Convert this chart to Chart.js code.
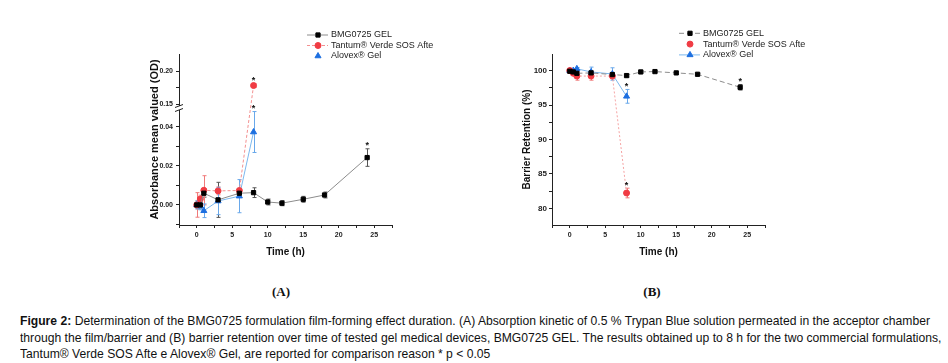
<!DOCTYPE html>
<html>
<head>
<meta charset="utf-8">
<script src="https://cdn.jsdelivr.net/npm/chart.js@4.4.1/dist/chart.umd.min.js"></script>
<style>
  body { margin: 0; background: #fff; width: 948px; height: 363px; position: relative; overflow: hidden; font-family: Arial, "Liberation Sans", sans-serif; }
  canvas { position: absolute; }
  #chartA { left: 120px; top: 20px; }
  #chartB { left: 490px; top: 20px; }
  .panel { position: absolute; top: 284px; font: bold 13px "Liberation Serif", serif; color: #111; transform: translateX(-50%); }
  #caption { position: absolute; left: 20px; top: 313px; font: 13px Arial, "Liberation Sans", sans-serif; line-height: 16.5px; color: #111; }
  #caption .ln { display: block; width: max-content; white-space: nowrap; transform-origin: 0 50%; }
</style>
</head>
<body>
<canvas id="chartA" width="330" height="250"></canvas>
<canvas id="chartB" width="330" height="250"></canvas>
<div class="panel" style="left:281px">(A)</div>
<div class="panel" style="left:652px">(B)</div>
<div id="caption">
  <span class="ln"><b>Figure 2:</b> Determination of the BMG0725 formulation film-forming effect duration. (A) Absorption kinetic of 0.5 % Trypan Blue solution permeated in the acceptor chamber</span>
  <span class="ln">through the film/barrier and (B) barrier retention over time of tested gel medical devices, BMG0725 GEL. The results obtained up to 8 h for the two commercial formulations,</span>
  <span class="ln">Tantum® Verde SOS Afte e Alovex® Gel, are reported for comparison reason * p &lt; 0.05</span>
</div>
<script>
    // sampling times (h)
    const timeBMG = [0, 0.5, 1, 3, 6, 8, 10, 12, 15, 18, 24];
    const timeRef = [0, 0.5, 1, 3, 6, 8];
    const seriesNames = ['BMG0725 GEL', 'Tantum® Verde SOS Afte', 'Alovex® Gel'];

    // Panel A: absorbance mean value (OD) and SD
    const absBMG = [0.000, 0.000, 0.006, 0.0026, 0.006, 0.0063, 0.0015, 0.0009, 0.0029, 0.0051, 0.0243];
    const absBMGErr = [0.002, 0.002, 0.002, 0.009, 0.002, 0.0025, 0.0015, 0.0013, 0.0015, 0.0015, 0.0045];
    const absTantum = [0.000, 0.003, 0.0075, 0.0072, 0.0074, 0.178];
    const absTantumErr = [0.0063, 0.002, 0.0075, 0.002, 0.001, 0.003];
    const absAlovex = [0.000, -0.0005, -0.003, 0.002, 0.0045, 0.0374];
    const absAlovexErr = [0.002, 0.002, 0.0035, 0.007, 0.0085, 0.0105];

    // Panel B: barrier retention (%) and SD
    const retBMG = [99.9, 99.8, 99.6, 99.66, 99.42, 99.27, 99.8, 99.85, 99.66, 99.46, 97.57];
    const retBMGErr = [0.2, 0.2, 0.2, 0.3, 0.2, 0.2, 0.15, 0.15, 0.15, 0.15, 0.4];
    const retTantum = [100.0, 99.6, 99.2, 99.2, 99.2, 82.24];
    const retTantumErr = [0.3, 0.3, 0.6, 0.6, 0.4, 0.7];
    const retAlovex = [100.0, 100.0, 100.25, 99.8, 99.5, 96.26];
    const retAlovexErr = [0.2, 0.2, 0.2, 0.7, 0.9, 1.0];

    // significant points (* p < 0.05): [dataset, point]
    const starsA = [[1, 5], [2, 5], [0, 10]];
    const starsB = [[1, 5], [2, 5], [0, 10]];

    // tick values
    const xTicks = [-2.5, 0, 2.5, 5, 7.5, 10, 12.5, 15, 17.5, 20, 22.5, 25, 27.5];
    const xLabels = [0, 5, 10, 15, 20, 25];
    const yTicksA = [-0.01, 0, 0.01, 0.02, 0.03, 0.04, 0.15, 0.175, 0.20];
    const yLabelsA = [0, 0.02, 0.04, 0.15, 0.20];
    const yTicksB = [80, 82.5, 85, 87.5, 90, 92.5, 95, 97.5, 100];
    const yLabelsB = [80, 85, 90, 95, 100];

    const toPoints = (times, vals) => times.map((t, i) => ({ x: t, y: vals[i] }));

    // linear scale with a gap (broken axis) between two value ranges
    class BrokenLinearScale extends Chart.LinearScale {
      getPixelForValue(value) {
        if (value === null || value === undefined) return NaN;
        const b = this.options.axisBreak;
        let dec;
        if (value <= b.low) {
          dec = (value - this.min) / (b.low - this.min) * b.split;
        } else {
          dec = b.split + b.gap + (value - b.high) / (this.max - b.high) * (1 - b.split - b.gap);
        }
        return this.getPixelForDecimal(dec);
      }
    }
    BrokenLinearScale.id = 'brokenLinear';
    BrokenLinearScale.defaults = Chart.LinearScale.defaults;
    Chart.register(BrokenLinearScale);

    const errorBars = {
      id: 'errorBars',
      beforeDatasetsDraw(chart) {
        const { ctx, scales: { x, y } } = chart;
        chart.data.datasets.forEach(ds => {
          ctx.save();
          ctx.strokeStyle = ds.errorColor;
          ctx.lineWidth = 1;
          ds.data.forEach((p, j) => {
            const e = ds.errors[j];
            const px = Math.round(x.getPixelForValue(p.x)) + 0.5;
            const top = y.getPixelForValue(p.y + e);
            const bot = y.getPixelForValue(p.y - e);
            ctx.beginPath();
            ctx.moveTo(px, top); ctx.lineTo(px, bot);
            ctx.moveTo(px - 2, top); ctx.lineTo(px + 2, top);
            ctx.moveTo(px - 2, bot); ctx.lineTo(px + 2, bot);
            ctx.stroke();
          });
          ctx.restore();
        });
      }
    };

    const stars = {
      id: 'stars',
      afterDatasetsDraw(chart, args, opts) {
        const { ctx, scales: { x, y } } = chart;
        ctx.save();
        ctx.fillStyle = '#111';
        ctx.font = 'bold 9px Arial';
        ctx.textAlign = 'center';
        ctx.textBaseline = 'middle';
        opts.points.forEach(([d, j]) => {
          const ds = chart.data.datasets[d];
          const p = ds.data[j];
          const top = y.getPixelForValue(p.y + ds.errors[j]);
          ctx.fillText('*', x.getPixelForValue(p.x), top - 3);
        });
        ctx.restore();
      }
    };

    const sideLegend = {
      id: 'sideLegend',
      afterDraw(chart, args, opts) {
        const ctx = chart.ctx;
        ctx.save();
        ctx.font = '9px Arial';
        ctx.textBaseline = 'middle';
        chart.data.datasets.forEach((ds, i) => {
          const y = opts.y + i * opts.rowHeight;
          const mx = opts.x;
          if (ds.legendLine) {
            ctx.strokeStyle = ds.borderColor;
            ctx.lineWidth = 1;
            ctx.setLineDash(ds.borderDash || []);
            ctx.beginPath();
            ctx.moveTo(mx - 11, y); ctx.lineTo(mx + 10, y);
            ctx.stroke();
            ctx.setLineDash([]);
          }
          ctx.fillStyle = ds.pointBackgroundColor;
          ctx.strokeStyle = ds.pointBorderColor;
          Chart.helpers.drawPoint(ctx, { pointStyle: ds.pointStyle, radius: ds.pointRadius, borderWidth: 1, rotation: 0 }, mx, y);
          ctx.fillStyle = '#222';
          ctx.fillText(ds.label, mx + 13, y);
        });
        ctx.restore();
      }
    };

    const axisBreakMark = {
      id: 'axisBreakMark',
      afterDraw(chart) {
        const { ctx, scales: { y } } = chart;
        const b = y.options.axisBreak;
        if (!b) return;
        const ax = y.right;
        const y1 = y.getPixelForValue(b.low);
        const y2 = y.getPixelForValue(b.high);
        ctx.save();
        ctx.fillStyle = '#fff';
        ctx.fillRect(ax - 2, y2, 4, y1 - y2);
        ctx.strokeStyle = '#222';
        ctx.lineWidth = 1;
        ctx.beginPath();
        [y1, y2].forEach(v => { ctx.moveTo(ax - 4, v + 1.5); ctx.lineTo(ax + 4, v - 1.5); });
        ctx.stroke();
        ctx.restore();
      }
    };

    function makeDatasets(bmg, bmgErr, tan, tanErr, alo, aloErr, panel) {
      return [
        {
          label: seriesNames[0], data: toPoints(timeBMG, bmg), errors: bmgErr,
          borderColor: '#8c8c8c', borderWidth: 1, borderDash: panel === 'B' ? [5, 3] : [],
          pointStyle: 'rect', pointRadius: 3, pointBackgroundColor: '#000', pointBorderColor: '#000',
          errorColor: '#555', legendLine: true
        },
        {
          label: seriesNames[1], data: toPoints(timeRef, tan), errors: tanErr,
          borderColor: panel === 'B' ? '#f5a3a3' : '#f39090', borderWidth: 1, borderDash: panel === 'B' ? [2, 2] : [3, 2],
          pointStyle: 'circle', pointRadius: 3, pointBackgroundColor: '#f03c44', pointBorderColor: '#f03c44',
          errorColor: '#f07a7a', legendLine: panel === 'A'
        },
        {
          label: seriesNames[2], data: toPoints(timeRef, alo), errors: aloErr,
          borderColor: '#7cb8ee', borderWidth: 1,
          pointStyle: 'triangle', pointRadius: 3.5, pointBackgroundColor: '#1d6fe0', pointBorderColor: '#1d6fe0',
          errorColor: '#69a8ea', legendLine: panel === 'B'
        }
      ];
    }

    function xAxis() {
      return {
        type: 'linear', min: -2.5, max: 27.5, bounds: 'data',
        afterBuildTicks: s => { s.ticks = xTicks.map(v => ({ value: v })); },
        afterFit: s => { s.height = 33; },
        border: { display: true, color: '#222', width: 1 },
        grid: { display: true, drawOnChartArea: false, drawTicks: true, tickLength: 3, color: '#222' },
        ticks: {
          autoSkip: false, maxRotation: 0, padding: 3, color: '#222', font: { size: 7, weight: 'bold', family: 'Arial' },
          callback: v => xLabels.includes(v) ? String(v) : ''
        },
        title: { display: true, text: 'Time (h)', color: '#111', font: { size: 10, weight: 'bold', family: 'Arial' }, padding: 0 }
      };
    }

    function commonOptions() {
      return {
        responsive: false,
        animation: false,
        events: [],
        plugins: { legend: { display: false }, tooltip: { enabled: false } }
      };
    }

    // Panel A
    const optsA = commonOptions();
    optsA.layout = { padding: { left: 28, top: 34, right: 58, bottom: 12 } };
    optsA.plugins.stars = { points: starsA };
    optsA.plugins.sideLegend = { x: 198, y: 15, rowHeight: 10.5 };
    optsA.scales = {
      x: xAxis(),
      y: {
        type: 'brokenLinear', min: -0.0103, max: 0.2258, bounds: 'data',
        axisBreak: { low: 0.0487, high: 0.147, split: 0.6725, gap: 0.0234 },
        afterBuildTicks: s => { s.ticks = yTicksA.map(v => ({ value: v })); },
        afterFit: s => { s.width = 31; },
        border: { display: true, color: '#222', width: 1 },
        grid: { display: true, drawOnChartArea: false, drawTicks: true, tickLength: 3, color: '#222' },
        ticks: {
          autoSkip: false, padding: 3, color: '#222', font: { size: 7, weight: 'bold', family: 'Arial' },
          callback: v => yLabelsA.includes(v) ? v.toFixed(2) : ''
        },
        title: { display: true, text: 'Absorbance mean valued (OD)', color: '#111', font: { size: 11, weight: 'bold', family: 'Arial' }, padding: 0 }
      }
    };

    new Chart(document.getElementById('chartA'), {
      type: 'line',
      data: { datasets: makeDatasets(absBMG, absBMGErr, absTantum, absTantumErr, absAlovex, absAlovexErr, 'A') },
      options: optsA,
      plugins: [errorBars, stars, sideLegend, axisBreakMark]
    });

    // Panel B
    const optsB = commonOptions();
    optsB.layout = { padding: { left: 31, top: 34, right: 55, bottom: 12 } };
    optsB.plugins.stars = { points: starsB };
    optsB.plugins.sideLegend = { x: 200, y: 13.3, rowHeight: 10.8 };
    optsB.scales = {
      x: xAxis(),
      y: {
        type: 'linear', min: 77.6, max: 102.4, bounds: 'data',
        afterBuildTicks: s => { s.ticks = yTicksB.map(v => ({ value: v })); },
        afterFit: s => { s.width = 31; },
        border: { display: true, color: '#222', width: 1 },
        grid: { display: true, drawOnChartArea: false, drawTicks: true, tickLength: 3, color: '#222' },
        ticks: {
          autoSkip: false, padding: 2, color: '#222', font: { size: 8, weight: 'bold', family: 'Arial' },
          callback: v => yLabelsB.includes(v) ? String(v) : ''
        },
        title: { display: true, text: 'Barrier Retention (%)', color: '#111', font: { size: 10, weight: 'bold', family: 'Arial' }, padding: 0 }
      }
    };

    new Chart(document.getElementById('chartB'), {
      type: 'line',
      data: { datasets: makeDatasets(retBMG, retBMGErr, retTantum, retTantumErr, retAlovex, retAlovexErr, 'B') },
      options: optsB,
      plugins: [errorBars, stars, sideLegend]
    });

    // squeeze the caption to the narrow width of the original figure text
    const lines = document.querySelectorAll('#caption .ln');
    const k = 910 / lines[0].getBoundingClientRect().width;
    lines.forEach(l => { l.style.transform = `scaleX(${k})`; });
</script>
</body>
</html>
